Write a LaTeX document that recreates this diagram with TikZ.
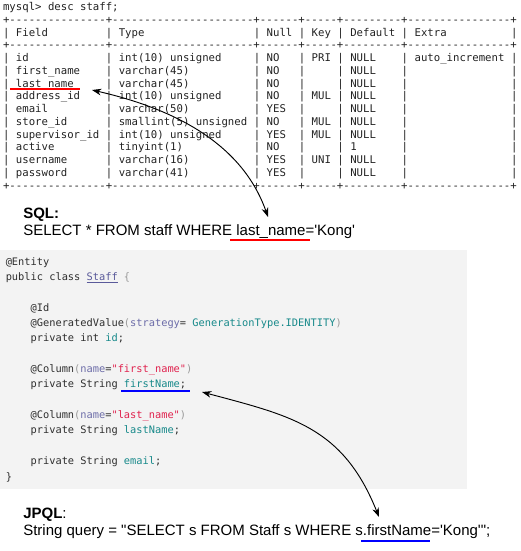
\documentclass[tikz,border=0pt]{standalone}
\usepackage{fontspec}
\setmainfont{Liberation Sans}
\setmonofont{DejaVu Sans Mono}
\usetikzlibrary{arrows.meta,positioning,calc}
\definecolor{term}{HTML}{222222}
\definecolor{codebg}{HTML}{F3F3F3}
\definecolor{codetxt}{HTML}{2E2E2E}
\definecolor{codepar}{HTML}{6C6CA8}
\definecolor{codestr}{HTML}{E0224E}
\definecolor{codeid}{HTML}{17898A}
\definecolor{codecls}{HTML}{5A5A9A}
\definecolor{codepunct}{HTML}{9A9A9A}
\definecolor{sqlmark}{HTML}{FF0000}
\definecolor{jpqlmark}{HTML}{0000FF}
\tikzset{tcell/.style={anchor=base west,inner sep=0pt,text=term,font=\ttfamily\fontsize{8}{9.5}\selectfont},ccell/.style={anchor=base west,inner sep=0pt,text=codetxt,font=\ttfamily\fontsize{7.75}{9}\selectfont},qtext/.style={anchor=base west,inner sep=0pt,font=\fontsize{11.25}{13}\selectfont},hl/.style={line width=2.2pt},link/.style={arrows={Stealth[length=7pt,width=5pt]-Stealth[length=7pt,width=5pt]},line width=0.7pt}}

\begin{document}
\begin{tikzpicture}[x=0.75pt,y=-0.75pt]
\useasboundingbox (0,0) rectangle (521,551);
\node[tcell] (prompt) at (2.8,10.5) {mysql> desc staff;};
\foreach \r/\n in {1/top,3/mid,14/bot}{\node[tcell] (rule\n) at (2.8,{10.5+12.75*\r}) {+---------------+----------------------+------+-----+---------+----------------+};}
\foreach \r/\fa/\fb/\fc/\fd/\fe/\ff in {2/Field/Type/Null/Key/Default/Extra,4/id/int(10) unsigned/NO/PRI/NULL/auto\_increment,5/first\_name/varchar(45)/NO/{}/NULL/{},6/last\_name/varchar(45)/NO/{}/NULL/{},7/address\_id/int(10) unsigned/NO/MUL/NULL/{},8/email/varchar(50)/YES/{}/NULL/{},9/store\_id/smallint(5) unsigned/NO/MUL/NULL/{},10/supervisor\_id/int(10) unsigned/YES/MUL/NULL/{},11/active/tinyint(1)/NO/{}/1/{},12/username/varchar(16)/YES/UNI/NULL/{},13/password/varchar(41)/YES/{}/NULL/{}}{
\foreach \c/\t [count=\k] in {2/\fa,18/\fb,41/\fc,48/\fd,54/\fe,64/\ff}{\node[tcell] (c\r-\k) at ({2.8+6.43*\c},{10.5+12.75*\r}) {\t};}
\foreach \c in {0,16,39,46,52,62,79}{\node[tcell] (b\r-\c) at ({2.8+6.43*\c},{10.5+12.75*\r}) {|};}
}
\draw[line width=1.6pt,sqlmark] ($(c6-1.base west)+(-5.7,2.3)$) -- ($(c6-1.base east)+(6.4,2.3)$);

\node[qtext,font=\bfseries\fontsize{11.25}{13}\selectfont] (sqlhead) at (23,218) {SQL:};
\node[qtext] (sqlq) at (23,235.4) {SELECT * FROM staff WHERE last\_name=\textquotesingle Kong\textquotesingle};
\draw[hl,sqlmark] (230,240) -- (310,240);

\path[fill=codebg] (0,250) rectangle (467,489);
\node[ccell] (l0) at (5.5,265.1) {@Entity};
\node[ccell] (l1) at (5.5,280.45) {public class {\color{codecls}\underline{Staff}} {\color{codepunct}\{}};
\node[ccell] (l3) at (30.4,311.15) {@Id};
\node[ccell] (l4) at (30.4,326.5) {@GeneratedValue{\color{codepunct}(}{\color{codepar}strategy}= {\color{codeid}GenerationType.IDENTITY}{\color{codepunct})}};
\node[ccell] (l5) at (30.4,341.85) {private int {\color{codeid}id};};
\node[ccell] (l7) at (30.4,372.55) {@Column{\color{codepunct}(}{\color{codepar}name}={\color{codestr}"first\_name"}{\color{codepunct})}};
\node[ccell] (l8) at (30.4,387.9) {private String {\color{codeid}firstName};};
\node[ccell] (l10) at (30.4,418.6) {@Column{\color{codepunct}(}{\color{codepar}name}={\color{codestr}"last\_name"}{\color{codepunct})}};
\node[ccell] (l11) at (30.4,433.95) {private String {\color{codeid}lastName};};
\node[ccell] (l13) at (30.4,464.65) {private String {\color{codeid}email};};
\node[ccell] (l14) at (5.5,480) {\}};
\draw[line width=1.6pt,jpqlmark] (121,390.7) -- (190,390.7);

\node[qtext] (jpqlhead) at (23,518) {\textbf{JPQL}:};
\node[qtext] (jpqlq) at (23,535.4) {String query = \textquotedbl SELECT s FROM Staff s WHERE s.firstName=\textquotesingle Kong\textquotesingle\textquotedbl;};
\draw[hl,jpqlmark] (361,541) -- (430,541);

\coordinate (sqlfrom) at (92,90);
\coordinate (sqlto) at (268,217);
\coordinate (jpqlfrom) at (202,392);
\coordinate (jpqlto) at (379,517);
\draw[link] (sqlfrom) .. controls (162,106) and (240,137) .. (sqlto);
\draw[link] (jpqlfrom) .. controls (292,416) and (343,427) .. (jpqlto);
\end{tikzpicture}
\end{document}
